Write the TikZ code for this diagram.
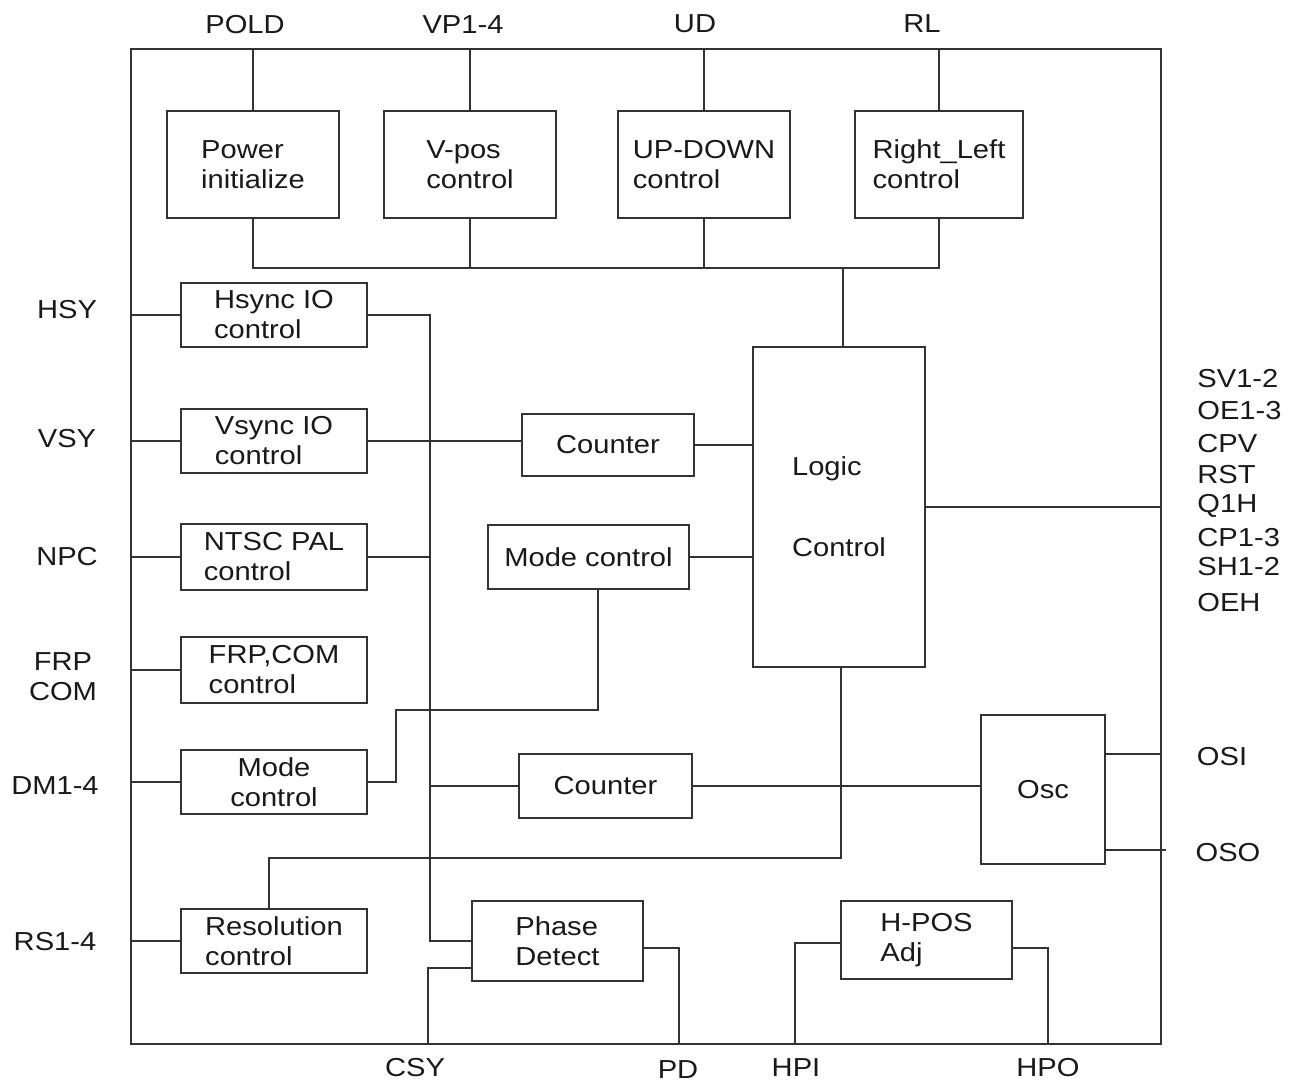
\documentclass[tikz,border=0pt]{standalone}
\usepackage{fontspec}
\setmainfont{Liberation Sans}[FakeStretch=1.12]
\begin{document}
\begin{tikzpicture}[
    x=0.5pt, y=-0.5pt,
    font=\fontsize{13}{15}\selectfont,
    blk/.style={draw=black!80, line width=0.7pt, inner sep=0pt, align=left, text=black!90},
    sig/.style={inner sep=0pt, text=black!90},
    wire/.style={draw=black!80, line width=0.7pt}
]
\useasboundingbox (0,0) rectangle (1294,1084);
\node[blk, minimum width=515pt, minimum height=497.5pt] (frame) at (646,546.5) {};

% top row
\node[blk, minimum width=86pt, minimum height=53.5pt] (pwr) at (253,164.5) {Power\\initialize};
\node[blk, minimum width=86pt, minimum height=53.5pt] (vpos) at (470,164.5) {V-pos\\control};
\node[blk, minimum width=86pt, minimum height=53.5pt] (updn) at (704,164.5) {UP-DOWN\\control};
\node[blk, minimum width=84pt, minimum height=53.5pt] (rl) at (939,164.5) {Right\_Left\\control};

% left column
\node[blk, minimum width=93pt, minimum height=32pt] (hsync) at (274,315) {Hsync IO\\control};
\node[blk, minimum width=93pt, minimum height=32pt] (vsync) at (274,441) {Vsync IO\\control};
\node[blk, minimum width=93pt, minimum height=33pt] (ntsc) at (274,557) {NTSC PAL\\control};
\node[blk, minimum width=93pt, minimum height=33pt] (frp) at (274,670) {FRP,COM\\control};
\node[blk, minimum width=93pt, minimum height=32pt, align=center] (modeL) at (274,782) {Mode\\control};
\node[blk, minimum width=93pt, minimum height=32pt] (res) at (274,941) {Resolution\\control};

% middle
\node[blk, minimum width=86pt, minimum height=31pt] (cnt1) at (608,445) {Counter};
\node[blk, minimum width=100.5pt, minimum height=32pt] (modeM) at (588.5,557) {Mode control};
\node[blk, minimum width=86pt, minimum height=160pt] (logic) at (839,507) {Logic\\[25.5pt]Control};
\node[blk, minimum width=86.5pt, minimum height=32pt] (cnt2) at (605.5,786) {Counter};
\node[blk, minimum width=62pt, minimum height=74.5pt] (osc) at (1043,789.5) {Osc};
\node[blk, minimum width=85.5pt, minimum height=40pt] (phase) at (557.5,941) {Phase\\Detect};
\node[blk, minimum width=85.5pt, minimum height=39pt] (hpos) at (926.5,940) {H-POS\\Adj};

% pin names
\node[sig] (pold) at (245,25) {POLD};
\node[sig] (vp) at (463,25) {VP1-4};
\node[sig] (ud) at (695,24) {UD};
\node[sig] (rlp) at (922,24) {RL};
\node[sig] (hsy) at (67,310) {HSY};
\node[sig] (vsy) at (67,439) {VSY};
\node[sig] (npc) at (67,557) {NPC};
\node[sig, align=center] (frpc) at (63,677) {FRP\\COM};
\node[sig] (dm) at (55,786) {DM1-4};
\node[sig] (rs) at (55,942) {RS1-4};
\node[sig] (csy) at (415,1068) {CSY};
\node[sig] (pd) at (678,1070) {PD};
\node[sig] (hpi) at (796,1068) {HPI};
\node[sig] (hpo) at (1048,1068) {HPO};
\node[sig] (osi) at (1222,757) {OSI};
\node[sig] (oso) at (1228,853) {OSO};
\node[sig, anchor=west] (sv) at (1197,379) {SV1-2};
\node[sig, anchor=west] (oe) at (1197,411) {OE1-3};
\node[sig, anchor=west] (cpv) at (1197,444) {CPV};
\node[sig, anchor=west] (rst) at (1197,475) {RST};
\node[sig, anchor=west] (qh) at (1197,506) {Q1H};
\node[sig, anchor=west] (cp) at (1197,538) {CP1-3};
\node[sig, anchor=west] (sh) at (1197,567) {SH1-2};
\node[sig, anchor=west] (oeh) at (1197,603) {OEH};

% top pins and bus
\draw[wire] (pwr.north) -- (pwr.north |- frame.north);
\draw[wire] (vpos.north) -- (vpos.north |- frame.north);
\draw[wire] (updn.north) -- (updn.north |- frame.north);
\draw[wire] (rl.north) -- (rl.north |- frame.north);
\coordinate (bus) at (0,268);
\draw[wire] (pwr.south) -- (pwr.south |- bus) -- (rl.south |- bus) -- (rl.south);
\draw[wire] (vpos.south) -- (vpos.south |- bus);
\draw[wire] (updn.south) -- (updn.south |- bus);
\draw[wire] ([xshift=2pt]logic.north) -- ([xshift=2pt]logic.north |- bus);

% left pins
\draw[wire] (hsync.west) -- (hsync.west -| frame.west);
\draw[wire] (vsync.west) -- (vsync.west -| frame.west);
\draw[wire] (ntsc.west) -- (ntsc.west -| frame.west);
\draw[wire] (frp.west) -- (frp.west -| frame.west);
\draw[wire] (modeL.west) -- (modeL.west -| frame.west);
\draw[wire] (res.west) -- (res.west -| frame.west);

% sync line
\coordinate (vbus) at (430,0);
\draw[wire] (hsync.east) -- (hsync.east -| vbus) -- (vbus |- phase.west) -- (phase.west);
\draw[wire] (ntsc.east) -- (ntsc.east -| vbus);
\draw[wire] (cnt2.west) -- (cnt2.west -| vbus);
\draw[wire] (vsync.east) -- (vsync.east -| cnt1.west);

% into logic
\draw[wire] (cnt1.east) -- (cnt1.east -| logic.west);
\draw[wire] (modeM.east) -- (modeM.east -| logic.west);
\coordinate (mjog) at (396,710);
\draw[wire] ([xshift=4.75pt]modeM.south) |- (mjog) |- (modeL.east);
\coordinate (ljog) at (269,858);
\draw[wire] ([xshift=1pt]logic.south) |- (ljog) -- (ljog |- res.north);
\draw[wire] (logic.east) -- (logic.east -| frame.east);

% oscillator
\draw[wire] (cnt2.east) -- (cnt2.east -| osc.west);
\draw[wire] ([yshift=17.75pt]osc.east) -- ([yshift=17.75pt]osc.east -| frame.east);
\draw[wire] ([yshift=-30.25pt]osc.east) -- ++(30pt,0);

% bottom pins
\coordinate (csyP) at (428,1044);
\coordinate (pdP) at (679,1044);
\coordinate (hpiP) at (795,1044);
\coordinate (hpoP) at (1048,1044);
\draw[wire] ([yshift=-13.5pt]phase.west) -| (csyP);
\draw[wire] ([yshift=-3.5pt]phase.east) -| (pdP);
\draw[wire] ([yshift=-1.5pt]hpos.west) -| (hpiP);
\draw[wire] ([yshift=-4pt]hpos.east) -| (hpoP);
\end{tikzpicture}
\end{document}
